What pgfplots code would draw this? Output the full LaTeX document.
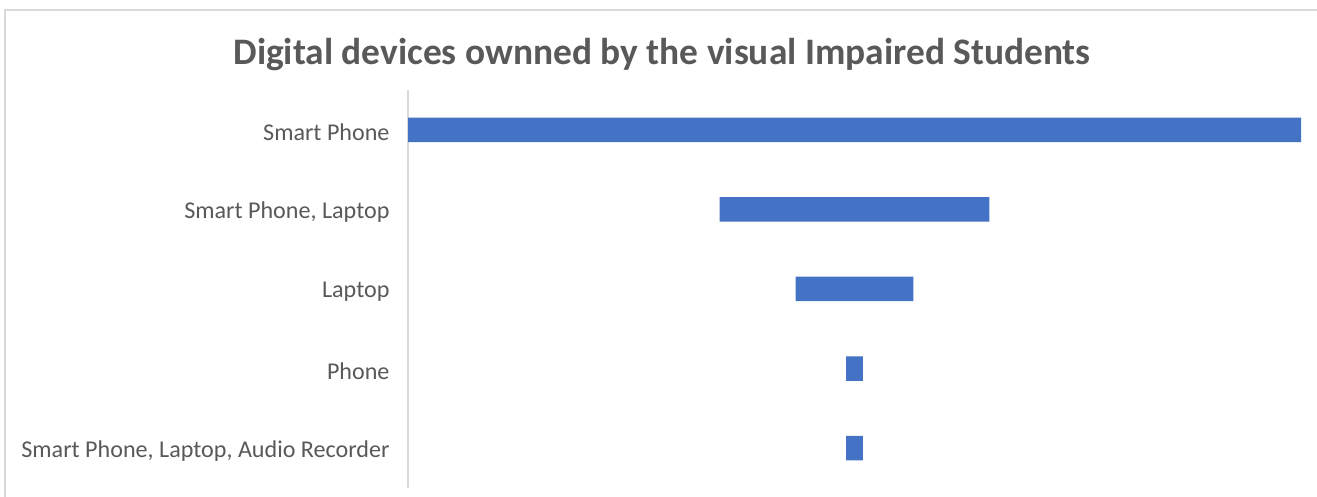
\documentclass[border=0pt]{standalone}
\usepackage{pgfplots}
\pgfplotsset{compat=1.18}
\usepackage{fontspec}
\setmainfont{Carlito}
\definecolor{barblue}{HTML}{4472C4}
\definecolor{txtgray}{HTML}{595959}
\definecolor{axgray}{HTML}{D9D9D9}
\begin{document}
\begin{tikzpicture}[x=1bp,y=1bp]
\useasboundingbox (0,0) rectangle (1317,497);
\fill[white] (0,0) rectangle (1317,497);
\draw[axgray, line width=1.2bp] (5,-5) -- (5,487) -- (1325,487);
\node[anchor=base, text=txtgray, font=\fontsize{37.4bp}{40bp}\selectfont\bfseries] at (662,432) {Digital devices ownned by the visual Impaired Students};
\begin{axis}[
  at={(408bp,9bp)}, anchor=south west,
  scale only axis, width=893bp, height=398bp,
  xmin=0, xmax=53, ymin=-0.5, ymax=4.5, y dir=reverse,
  xbar stacked, bar width=24.5bp,
  axis x line=none,
  axis y line=left,
  y axis line style={draw=axgray, line width=1.8bp, -},
  ytick={0,1,2,3,4},
  yticklabels={Smart Phone, {Smart Phone, Laptop}, Laptop, Phone, {Smart Phone, Laptop, Audio Recorder}},
  major tick length=0pt,
  yticklabel style={text=txtgray, font=\fontsize{24.1bp}{26bp}\selectfont, xshift=-15bp, yshift=-2.5bp},
  clip=false,
]
\addplot[draw=none, fill=none] coordinates {(0,0) (18.5,1) (23,2) (26,3) (26,4)};
\addplot[draw=none, fill=barblue] coordinates {(53,0) (16,1) (7,2) (1,3) (1,4)};
\end{axis}
\end{tikzpicture}
\end{document}
